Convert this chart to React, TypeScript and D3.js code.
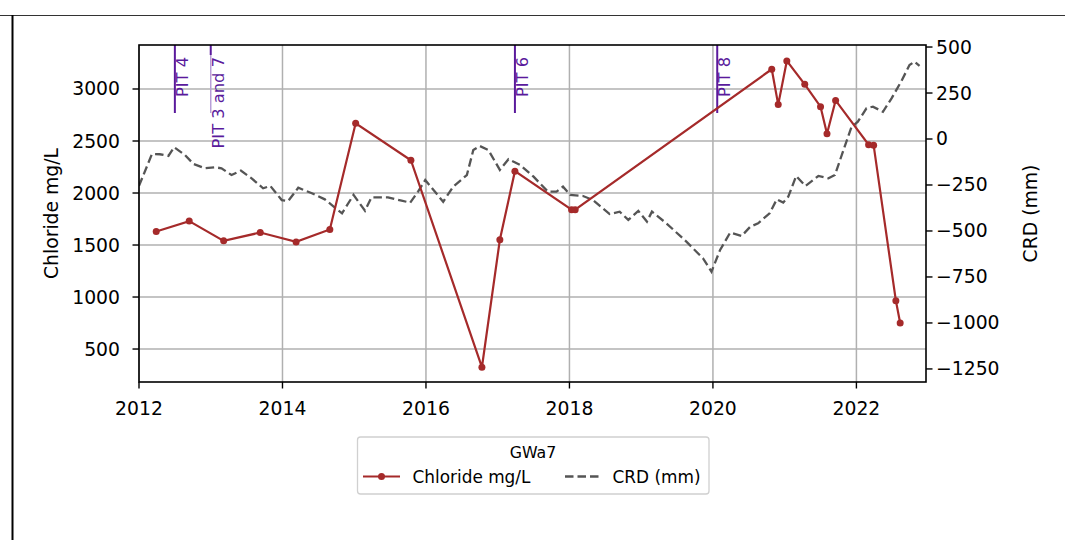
import React from "react";
import * as d3 from "d3";

const clDates = [2012.24, 2012.70, 2013.18, 2013.69, 2014.19, 2014.66, 2015.02, 2015.79, 2016.78, 2017.03, 2017.24, 2018.03, 2018.08, 2020.82, 2020.91, 2021.03, 2021.28, 2021.50, 2021.59, 2021.71, 2022.17, 2022.24, 2022.55, 2022.61];
const clValues = [1630, 1730, 1540, 1620, 1530, 1650, 2670, 2315, 325, 1550, 2210, 1840, 1840, 3190, 2850, 3270, 3045, 2830, 2570, 2890, 2465, 2460, 965, 750];

const crdDates = [2012.00, 2012.18, 2012.29, 2012.41, 2012.49, 2012.64, 2012.76, 2012.92, 2013.06, 2013.15, 2013.29, 2013.42, 2013.57, 2013.73, 2013.83, 2013.99, 2014.08, 2014.22, 2014.41, 2014.59, 2014.83, 2014.99, 2015.15, 2015.24, 2015.47, 2015.66, 2015.78, 2015.89, 2015.99, 2016.24, 2016.38, 2016.57, 2016.66, 2016.75, 2016.87, 2017.03, 2017.15, 2017.31, 2017.50, 2017.70, 2017.82, 2017.91, 2018.01, 2018.19, 2018.33, 2018.56, 2018.70, 2018.82, 2018.96, 2019.08, 2019.15, 2019.35, 2019.63, 2019.86, 2019.98, 2020.10, 2020.24, 2020.40, 2020.52, 2020.63, 2020.79, 2020.89, 2020.98, 2021.05, 2021.16, 2021.29, 2021.47, 2021.61, 2021.70, 2021.82, 2021.93, 2022.02, 2022.14, 2022.23, 2022.37, 2022.49, 2022.63, 2022.74, 2022.81, 2022.88];
const crdValues = [-255, -82, -83, -92, -45, -87, -136, -159, -154, -159, -196, -172, -214, -268, -255, -332, -337, -265, -295, -328, -404, -304, -390, -317, -317, -335, -346, -286, -223, -341, -259, -196, -60, -38, -60, -168, -110, -141, -205, -286, -286, -259, -304, -310, -332, -408, -395, -440, -391, -449, -395, -458, -558, -648, -721, -603, -509, -527, -477, -458, -404, -328, -346, -314, -201, -255, -201, -214, -196, -60, 64, 94, 167, 176, 148, 221, 317, 402, 420, 397];

const pitDates = [2012.50, 2013.00, 2017.24, 2020.06];
const pitLabels = ["PIT 4", "PIT 3 and 7", "PIT 6", "PIT 8"];

const xTicks = [2012, 2014, 2016, 2018, 2020, 2022];
const yLeftTicks = [500, 1000, 1500, 2000, 2500, 3000];
const yRightTicks = [-1250, -1000, -750, -500, -250, 0, 250, 500];

const FONT = "DejaVu Sans, sans-serif";

export default function App() {
  const L = 139, R = 926, T = 45, B = 382;
  const x = d3.scaleLinear().domain([2012, 2022.97]).range([L, R]);
  const yL = d3.scaleLinear().domain([183, 3423]).range([B, T]);
  const yR = d3.scaleLinear().domain([-1321, 511]).range([B, T]);

  const clPts = clDates.map((d, i) => [d, clValues[i]] as [number, number]);
  const crdPts = crdDates.map((d, i) => [d, crdValues[i]] as [number, number]);
  const clLine = d3.line<[number, number]>().x(d => x(d[0])).y(d => yL(d[1]));
  const crdLine = d3.line<[number, number]>().x(d => x(d[0])).y(d => yR(d[1]));

  const fmt = (v: number) => (v < 0 ? "\u2212" + Math.abs(v) : String(v));
  const fs = 18.8;
  const purple = "#5a1a9c";

  return (
    <svg width={1065} height={540} style={{ position: "absolute", left: 0, top: 0, background: "#fff" }} fontFamily={FONT}>
      <rect width={1065} height={540} fill="#fff" />
      {/* outer frame */}
      <line x1={0} x2={1065} y1={15.5} y2={15.5} stroke="#333" strokeWidth={1} />
      <line x1={12.5} x2={12.5} y1={15} y2={540} stroke="#000" strokeWidth={2} />

      {/* grid */}
      {xTicks.map(t => (
        <line key={"gx" + t} x1={x(t)} x2={x(t)} y1={T} y2={B} stroke="#b0b0b0" strokeWidth={1.5} />
      ))}
      {yLeftTicks.map(t => (
        <line key={"gy" + t} x1={L} x2={R} y1={yL(t)} y2={yL(t)} stroke="#b0b0b0" strokeWidth={1.5} />
      ))}

      <defs>
        <clipPath id="plotclip">
          <rect x={L} y={T} width={R - L} height={B - T} />
        </clipPath>
      </defs>

      {/* PIT markers */}
      {pitDates.map((d, i) => (
        <g key={"pit" + i}>
          {i === 1 ? (
            <>
              <line x1={x(d)} x2={x(d)} y1={T} y2={T + 10} stroke={purple} strokeWidth={2} />
              <line x1={x(d)} x2={x(d)} y1={T + 10} y2={113} stroke="#b79fd8" strokeWidth={1.5} />
            </>
          ) : (
            <line x1={x(d)} x2={x(d)} y1={T} y2={113} stroke={purple} strokeWidth={2} />
          )}
          <text
            transform={`translate(${x(d) + 1},57) rotate(-90)`}
            textAnchor="end"
            dominantBaseline="hanging"
            fontSize={16.3}
            fill={purple}
          >
            {pitLabels[i]}
          </text>
        </g>
      ))}

      <g clipPath="url(#plotclip)">
        <path d={crdLine(crdPts) || ""} fill="none" stroke="#555555" strokeWidth={2.3} strokeDasharray="8.5,4" />
        <path d={clLine(clPts) || ""} fill="none" stroke="#a52a2a" strokeWidth={2.2} />
        {clPts.map((p, i) => (
          <circle key={"c" + i} cx={x(p[0])} cy={yL(p[1])} r={3.5} fill="#a52a2a" />
        ))}
      </g>

      {/* spines */}
      <rect x={L} y={T} width={R - L} height={B - T} fill="none" stroke="#000" strokeWidth={1.6} />

      {/* bottom ticks */}
      {xTicks.map(t => (
        <g key={"xt" + t}>
          <line x1={x(t)} x2={x(t)} y1={B} y2={B + 6.5} stroke="#000" strokeWidth={1.4} />
          <text x={x(t)} y={B + 33} textAnchor="middle" fontSize={fs} fill="#000">{t}</text>
        </g>
      ))}
      {/* left ticks */}
      {yLeftTicks.map(t => (
        <g key={"yl" + t}>
          <line x1={L - 6.5} x2={L} y1={yL(t)} y2={yL(t)} stroke="#000" strokeWidth={1.4} />
          <text x={L - 19} y={yL(t)} textAnchor="end" dominantBaseline="central" fontSize={fs} fill="#000">{t}</text>
        </g>
      ))}
      {/* right ticks */}
      {yRightTicks.map(t => (
        <g key={"yr" + t}>
          <line x1={R} x2={R + 6.5} y1={yR(t)} y2={yR(t)} stroke="#000" strokeWidth={1.4} />
          <text x={R + 10} y={yR(t)} dominantBaseline="central" fontSize={fs} fill="#000">{fmt(t)}</text>
        </g>
      ))}

      {/* axis labels */}
      <text transform={`translate(51,${(T + B) / 2}) rotate(-90)`} textAnchor="middle" dominantBaseline="central" fontSize={fs} fill="#000">Chloride mg/L</text>
      <text transform={`translate(1030,${(T + B) / 2}) rotate(-90)`} textAnchor="middle" dominantBaseline="central" fontSize={fs} fill="#000">CRD (mm)</text>

      {/* legend */}
      <rect x={357.5} y={437} width={351.5} height={57} rx={3} fill="#fff" stroke="#d0d0d0" strokeWidth={1.3} />
      <text x={533} y={458} textAnchor="middle" fontSize={15.8} fill="#000">GWa7</text>
      <line x1={363} x2={400} y1={476.5} y2={476.5} stroke="#a52a2a" strokeWidth={2.2} />
      <circle cx={381.5} cy={476.5} r={3.5} fill="#a52a2a" />
      <text x={412.5} y={482.5} fontSize={16.9} fill="#000">Chloride mg/L</text>
      <line x1={565} x2={599} y1={476.5} y2={476.5} stroke="#555555" strokeWidth={2.3} strokeDasharray="8.5,4" />
      <text x={612.5} y={482.5} fontSize={16.9} fill="#000">CRD (mm)</text>
    </svg>
  );
}
